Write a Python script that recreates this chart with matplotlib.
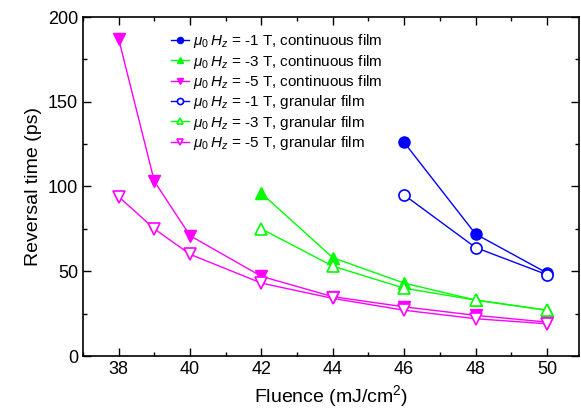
import matplotlib
matplotlib.use('Agg')
import matplotlib.pyplot as plt
from matplotlib.ticker import MultipleLocator

plt.rcParams['font.family'] = ['Liberation Sans', 'DejaVu Sans']
plt.rcParams['mathtext.fontset'] = 'custom'
plt.rcParams['mathtext.rm'] = 'Liberation Sans'
plt.rcParams['mathtext.it'] = 'Liberation Sans:italic'

# fluence values (mJ/cm2)
f_blue = [46, 48, 50]
f_green = [42, 44, 46, 48, 50]
f_mag = [38, 39, 40, 42, 44, 46, 48, 50]

# reversal times (ps)
cont_1T = [126, 72, 49]
gran_1T = [95, 64, 48]
cont_3T = [96, 58, 43, 33, 27]
gran_3T = [75, 53, 40, 33, 27]
cont_5T = [187, 103, 71, 47, 35, 29, 24, 20]
gran_5T = [94, 75, 60, 43, 34, 27, 22, 19]

blue = '#0000ff'
green = '#00ff00'
mag = '#ff00ff'

fig = plt.figure(figsize=(5.81, 4.15), dpi=100)
ax = fig.add_axes([83/581, 59/415, 496/581, 339/415])

ax.plot(f_blue, cont_1T, '-o', color=blue, lw=1, ms=8, label=r'$\mu_0\,H_z$ = -1 T, continuous film')
ax.plot(f_green, cont_3T, '-^', color=green, lw=1, ms=9, label=r'$\mu_0\,H_z$ = -3 T, continuous film')
ax.plot(f_mag, cont_5T, '-v', color=mag, lw=1, ms=9, label=r'$\mu_0\,H_z$ = -5 T, continuous film')
ax.plot(f_blue, gran_1T, '-o', color=blue, mfc='white', mew=1.2, lw=1, ms=8, label=r'$\mu_0\,H_z$ = -1 T, granular film')
ax.plot(f_green, gran_3T, '-^', color=green, mfc='white', mew=1.2, lw=1, ms=9, label=r'$\mu_0\,H_z$ = -3 T, granular film')
ax.plot(f_mag, gran_5T, '-v', color=mag, mfc='white', mew=1.2, lw=1, ms=9, label=r'$\mu_0\,H_z$ = -5 T, granular film')

ax.set_xlim(37, 50.9)
ax.set_ylim(0, 200)
ax.xaxis.set_major_locator(MultipleLocator(2))
ax.xaxis.set_minor_locator(MultipleLocator(1))
ax.yaxis.set_major_locator(MultipleLocator(50))
ax.yaxis.set_minor_locator(MultipleLocator(25))
ax.tick_params(which='both', direction='in', top=True, right=True, labelsize=13, width=1)
ax.tick_params(which='major', length=6)
ax.tick_params(which='minor', length=3)
for s in ax.spines.values():
    s.set_linewidth(1.2)

ax.set_xlabel('Fluence (mJ/cm$^2$)', fontsize=14)
ax.set_ylabel('Reversal time (ps)', fontsize=14)

leg = ax.legend(loc='upper left', bbox_to_anchor=(0.15, 0.995), frameon=False, fontsize=11,
                handlelength=1.2, handletextpad=0.25, markerscale=0.55, labelspacing=0.15)

fig.savefig('out.png', dpi=100)
